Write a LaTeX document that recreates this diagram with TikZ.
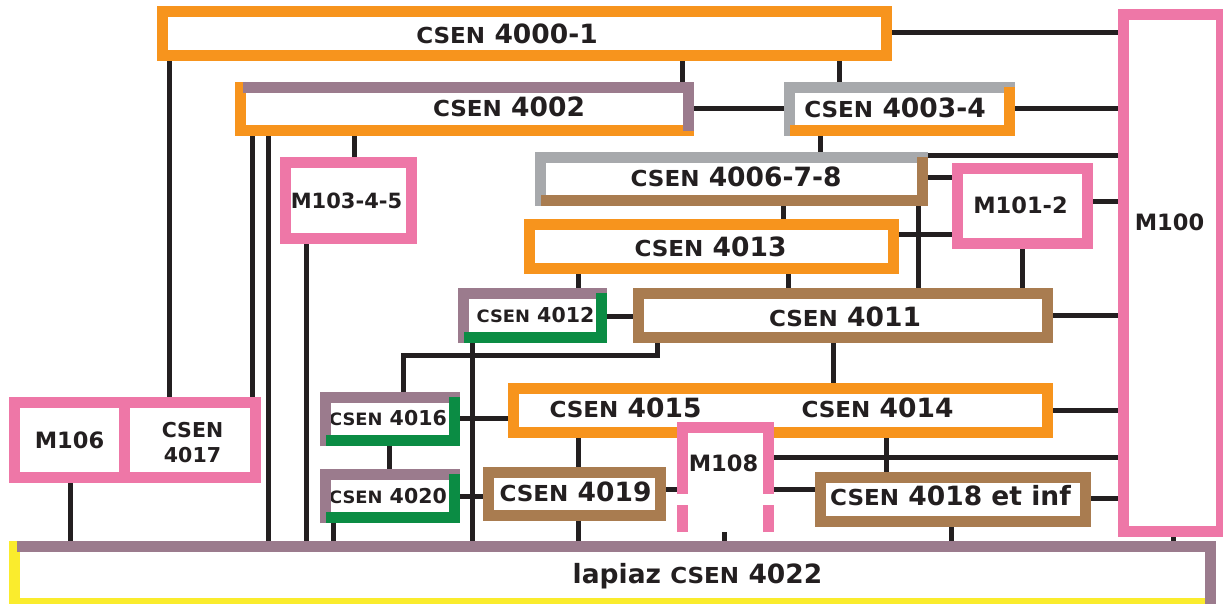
\documentclass[tikz,border=0pt]{standalone}
\usepackage{fontspec}
\setmainfont{DejaVu Sans}
\usetikzlibrary{calc}
\pgfdeclarelayer{bg}
\pgfsetlayers{bg,main}
\definecolor{orangeC}{HTML}{F7941D}
\definecolor{pinkC}{HTML}{EE77A7}
\definecolor{mauveC}{HTML}{9B7B8D}
\definecolor{greyC}{HTML}{A7A9AC}
\definecolor{brownC}{HTML}{A97C50}
\definecolor{greenC}{HTML}{0B8C44}
\definecolor{yellowC}{HTML}{FAEC2D}
\definecolor{lineC}{HTML}{231F20}
\definecolor{txtC}{HTML}{231F20}
\newcommand\cs{\scalebox{0.87}[0.83]{CSEN}}
\tikzset{
  conn/.style={draw=lineC, line width=5pt},
  ubox/.style={rectangle, draw=#1, line width=11pt, fill=white, inner sep=0pt, outer sep=5.5pt},
  tbox/.style={rectangle, draw=none, fill=white, inner sep=0pt, outer sep=0pt},
  bigt/.style={font=\bfseries\fontsize{26.5}{30}\selectfont, text=txtC, inner sep=0pt},
  smallt/.style={font=\bfseries\fontsize{20.5}{25}\selectfont, text=txtC, inner sep=0pt},
  mt/.style={font=\bfseries\fontsize{22.5}{26}\selectfont, text=txtC, inner sep=0pt},
}
% top+left colour #2, bottom+right colour #3
\newcommand\ttTL[3]{%
  \draw[#2, line width=11pt] ($(#1.south west)+(5.5,0)$) -- ($(#1.north west)+(5.5,5.5)$) -- ($(#1.north east)+(0,5.5)$);
  \draw[#3, line width=11pt] ($(#1.south west)+(6,-5.5)$) -- ($(#1.south east)+(-5.5,-5.5)$) -- ($(#1.north east)+(-5.5,5)$);
}
% left+bottom colour #2, top+right colour #3
\newcommand\ttLB[3]{%
  \draw[#2, line width=11pt] ($(#1.north west)+(5.5,0)$) -- ($(#1.south west)+(5.5,-5.5)$) -- ($(#1.south east)+(0,-5.5)$);
  \draw[#3, line width=11pt] ($(#1.north west)+(7.5,5.5)$) -- ($(#1.north east)+(-5.5,5.5)$) -- ($(#1.south east)+(-5.5,-5)$);
}
\begin{document}
\begin{tikzpicture}[x=1pt,y=-1pt]
\useasboundingbox (0,0) rectangle (1223,604);
\begin{pgfonlayer}{bg}
\fill[white] (0,0) rectangle (1223,604);
\end{pgfonlayer}

% ---- boxes ----
\node[ubox=orangeC, minimum width=724pt, minimum height=44pt,
  label={[bigt,xshift=-17.5pt]center:\cs{} 4000-1}] (n40001) at (524.5,33.5) {};
\node[tbox, minimum width=459pt, minimum height=54pt,
  label={[bigt,xshift=44.5pt,yshift=2pt]center:\cs{} 4002}] (n4002) at (464.5,109) {};
\node[tbox, minimum width=231pt, minimum height=54pt,
  label={[bigt,xshift=-4.5pt,yshift=1pt]center:\cs{} 4003-4}] (n40034) at (899.5,109) {};
\node[ubox=pinkC, minimum width=98pt, minimum height=517pt,
  label={[mt,xshift=-3pt,yshift=51pt]center:M100}] (m100) at (1172.5,273) {};
\node[tbox, minimum width=393pt, minimum height=54pt,
  label={[bigt,xshift=4.5pt,yshift=2pt]center:\cs{} 4006-7-8}] (n4006) at (731.5,179) {};
\node[ubox=pinkC, minimum width=130pt, minimum height=75pt,
  label={[mt,xshift=-2pt,yshift=1pt]center:M101-2}] (m1012) at (1022.5,206) {};
\node[ubox=pinkC, minimum width=126pt, minimum height=76pt,
  label={[mt,font=\bfseries\fontsize{21}{25}\selectfont,xshift=-2pt]center:M103-4-5}] (m103) at (348.5,200.5) {};
\node[ubox=orangeC, minimum width=364pt, minimum height=44pt,
  label={[bigt,xshift=-1pt]center:\cs{} 4013}] (n4013) at (711.5,246.5) {};
\node[tbox, minimum width=149pt, minimum height=55pt,
  label={[smallt,xshift=3pt]center:\cs{} 4012}] (n4012) at (532.5,315.5) {};
\node[ubox=brownC, minimum width=409pt, minimum height=44pt,
  label={[bigt,xshift=2pt,yshift=-1pt]center:\cs{} 4011}] (n4011) at (843,315.5) {};
\node[tbox, minimum width=140pt, minimum height=54pt,
  label={[smallt,xshift=-2pt,yshift=1pt]center:\cs{} 4016}] (n4016) at (390,419) {};
\node[tbox, minimum width=140pt, minimum height=54pt,
  label={[smallt,xshift=-2pt]center:\cs{} 4020}] (n4020) at (390,496) {};
\node[ubox=orangeC, minimum width=534pt, minimum height=44pt,
  label={[bigt,xshift=-155pt,yshift=2.5pt]center:\cs{} 4015},
  label={[bigt,xshift=97pt,yshift=2.5pt]center:\cs{} 4014}] (n4015) at (780.5,410.5) {};
\node[tbox, minimum width=97pt, minimum height=110pt,
  label={[mt,xshift=-2pt,yshift=14pt]center:M108}] (m108) at (725.5,477) {};
\node[ubox=brownC, minimum width=172pt, minimum height=43pt,
  label={[bigt,xshift=1pt,yshift=2pt]center:\cs{} 4019}] (n4019) at (574.5,494) {};
\node[ubox=brownC, minimum width=265pt, minimum height=44pt,
  label={[bigt,xshift=-2.5pt,yshift=4pt]center:\cs{} 4018 et inf}] (n4018) at (953,499.5) {};
\node[ubox=pinkC, minimum width=110pt, minimum height=75pt,
  label={[mt]center:M106}] (m106) at (69.5,440) {};
\node[ubox=pinkC, minimum width=131pt, minimum height=75pt,
  label={[smallt,align=center,xshift=2.5pt,yshift=-2.5pt]center:CSEN\\4017}] (n4017) at (190,440) {};
\node[tbox, minimum width=1207pt, minimum height=68pt,
  label={[bigt,xshift=85pt,yshift=-1pt]center:lapiaz \cs{} 4022}] (lapiaz) at (612.5,575) {};

% two-tone borders
\ttLB{n4002}{orangeC}{mauveC}
\ttTL{n40034}{greyC}{orangeC}
\ttTL{n4006}{greyC}{brownC}
\ttTL{n4012}{mauveC}{greenC}
\ttTL{n4016}{mauveC}{greenC}
\ttTL{n4020}{mauveC}{greenC}
\ttLB{lapiaz}{yellowC}{mauveC}

% M108 open pink frame
\draw[pinkC, line width=11pt] ($(m108.south west)+(5.5,-38)$) -- ($(m108.north west)+(5.5,5.5)$)
  -- ($(m108.north east)+(-5.5,5.5)$) -- ($(m108.south east)+(-5.5,-38)$);
\draw[pinkC, line width=11pt] ($(m108.south west)+(5.5,0)$) -- ++(0,-27);
\draw[pinkC, line width=11pt] ($(m108.south east)+(-5.5,0)$) -- ++(0,-27);

% ---- connectors ----
\begin{pgfonlayer}{bg}
\draw[conn] (n40001.east |- 0,33) -- (m100.west |- 0,33);
\draw[conn] (n40001.south -| 682,0) -- (n4002.north -| 682,0);
\draw[conn] (n40001.south -| 839,0) -- (n40034.north -| 839,0);
\draw[conn] (n40001.south -| 169,0) -- (n4017.north -| 169,0);
\draw[conn] (n4002.east |- 0,109) -- (n40034.west |- 0,109);
\draw[conn] (n40034.east |- 0,109) -- (m100.west |- 0,109);
\draw[conn] (n40034.south -| 820,0) -- (n4006.north -| 820,0);
\draw[conn] (n4002.south -| 252,0) -- (n4017.north -| 252,0);
\draw[conn] (n4002.south -| 268,0) -- (lapiaz.north -| 268,0);
\draw[conn] (n4002.south -| 354,0) -- (m103.north -| 354,0);
\draw[conn] (m103.south -| 306,0) -- (lapiaz.north -| 306,0);
\draw[conn] (n4006.east |- 0,156) -- (m100.west |- 0,156);
\draw[conn] (n4006.east |- 0,178) -- (m1012.west |- 0,178);
\draw[conn] (m1012.east |- 0,202) -- (m100.west |- 0,202);
\draw[conn] (n4006.south -| 783,0) -- (n4013.north -| 783,0);
\draw[conn] (n4006.south -| 918,0) -- (n4011.north -| 918,0);
\draw[conn] (n4013.east |- 0,234) -- (m1012.west |- 0,234);
\draw[conn] (n4013.south -| 578,0) -- (n4012.north -| 578,0);
\draw[conn] (n4013.south -| 788,0) -- (n4011.north -| 788,0);
\draw[conn] (m1012.south -| 1022,0) -- (n4011.north -| 1022,0);
\draw[conn] (n4012.east |- 0,316) -- (n4011.west |- 0,316);
\draw[conn] (n4011.east |- 0,315) -- (m100.west |- 0,315);
\draw[conn] (n4011.south -| 833,0) -- (n4015.north -| 833,0);
\draw[conn] (n4011.south -| 657,0) -- (657,355) -| (n4016.north -| 403,0);
\draw[conn] (n4012.south -| 472,0) -- (lapiaz.north -| 472,0);
\draw[conn] (n4016.east |- 0,418) -- (n4015.west |- 0,418);
\draw[conn] (n4016.south -| 389,0) -- (n4020.north -| 389,0);
\draw[conn] (n4020.east |- 0,496) -- (n4019.west |- 0,496);
\draw[conn] (n4020.south -| 333,0) -- (lapiaz.north -| 333,0);
\draw[conn] (n4015.south -| 578,0) -- (n4019.north -| 578,0);
\draw[conn] (n4019.south -| 578,0) -- (lapiaz.north -| 578,0);
\draw[conn] (n4019.east |- 0,489) -- (m108.west |- 0,489);
\draw[conn] (m108.east |- 0,457) -- (m100.west |- 0,457);
\draw[conn] (m108.east |- 0,489) -- (n4018.west |- 0,489);
\draw[conn] (n4015.south -| 886,0) -- (n4018.north -| 886,0);
\draw[conn] (n4015.east |- 0,410) -- (m100.west |- 0,410);
\draw[conn] (n4018.east |- 0,498) -- (m100.west |- 0,498);
\draw[conn] (n4018.south -| 951,0) -- (lapiaz.north -| 951,0);
\draw[conn] (m108.south -| 724,0) -- (lapiaz.north -| 724,0);
\draw[conn] (m100.south -| 1173,0) -- (lapiaz.north -| 1173,0);
\draw[conn] (m106.south -| 70,0) -- (lapiaz.north -| 70,0);
\end{pgfonlayer}
\end{tikzpicture}
\end{document}
